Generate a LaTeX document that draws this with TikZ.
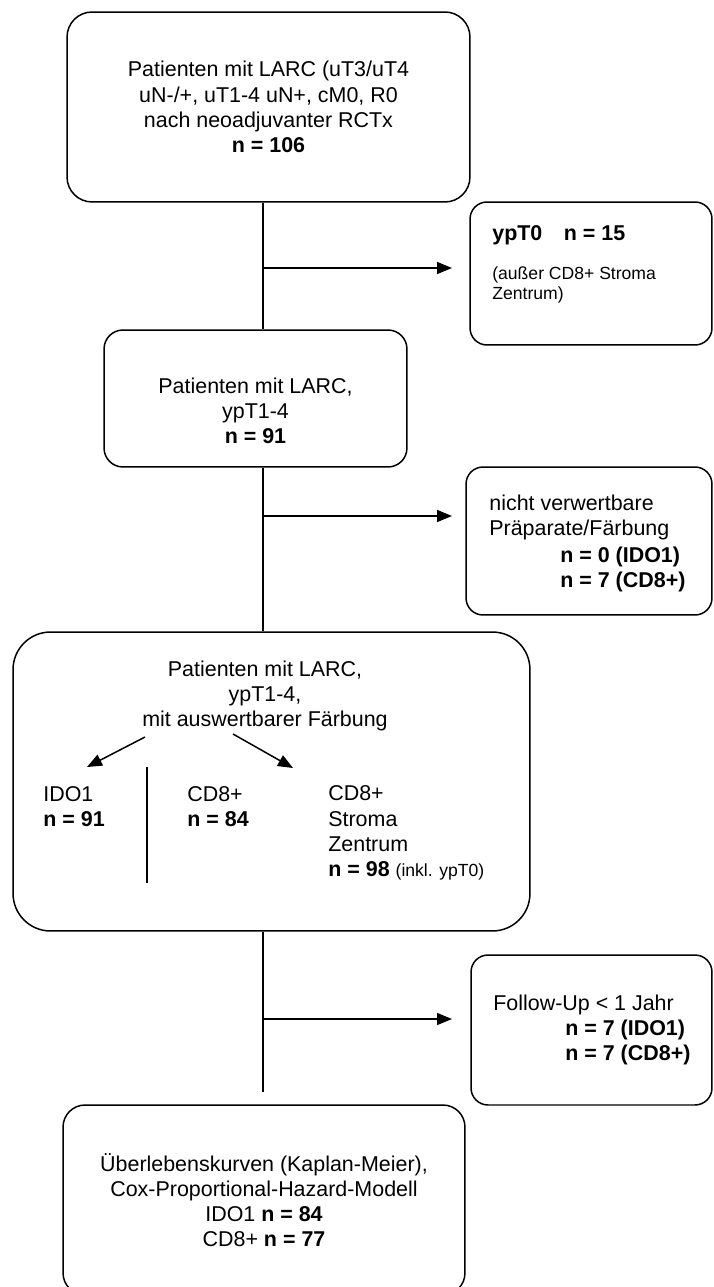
\documentclass[tikz,border=0pt]{standalone}
\usepackage{fontspec}
\setmainfont{Liberation Sans}
\usetikzlibrary{arrows.meta}
\tikzset{
	box/.style={draw, line width=0.85pt, rounded corners=#1, inner sep=0pt, align=center},
	box/.default=0.5cm,
	txt/.style={inner sep=0pt, align=left, anchor=west},
	line/.style={line width=0.85pt},
	arr/.style={line width=0.85pt, -{Triangle[length=0.3cm,width=0.24cm]}},
	smalltxt/.style={font=\fontsize{10}{11.4}\selectfont}
}

\begin{document}
\begin{tikzpicture}[x=0.02cm, y=-0.02cm, font=\fontsize{12.2}{14.3}\selectfont]
			%%%%% START %%%%%
			
			\useasboundingbox (0, 0) rectangle (713, 1287);
			
			\coordinate (spine) at (263, 0);
			
			\node[box, minimum width=8.06cm, minimum height=3.8cm] (larc) at (268.5, 107) {Patienten mit LARC (uT3/uT4\\uN-/+, uT1-4 uN+, cM0, R0\\nach neoadjuvanter RCTx\\\textbf{n = 106}};
			
			\node[box=0.34cm, minimum width=4.84cm, minimum height=2.86cm] (ypt) at (591, 273.5) {};
			\node[txt] (yptn) at (492, 235) {\textbf{ypT0\quad n = 15}};
			\node[txt, smalltxt] (yptx) at (492, 285) {(außer CD8+ Stroma\\Zentrum)};
			
			\node[box=0.38cm, minimum width=6.06cm, minimum height=2.74cm] (pat) at (255.5, 398.5) {};
			\node[txt, align=center, anchor=center] (patt) at (255.5, 411) {Patienten mit LARC,\\ypT1-4\\\textbf{n = 91}};
			
			\node[box=0.34cm, minimum width=4.92cm, minimum height=2.96cm] (verw) at (589, 541) {};
			\node[txt] (verwt) at (489, 517.5) {nicht verwertbare\\Präparate/Färbung};
			\node[txt] (verwn) at (560, 569.5) {\textbf{n = 0 (IDO1)}\\\textbf{n = 7 (CD8+)}};
			
			\node[box=0.75cm, minimum width=10.34cm, minimum height=5.98cm] (ausw) at (271.5, 781.5) {};
			\node[txt, align=center, anchor=center] (auswt) at (265, 696) {Patienten mit LARC,\\ypT1-4,\\mit auswertbarer Färbung};
			\node[txt] (ido) at (43, 806.5) {IDO1\\\textbf{n = 91}};
			\node[txt] (cd) at (187, 806.5) {CD8+\\\textbf{n = 84}};
			\node[txt] (cds) at (328, 833) {CD8+\\Stroma\\Zentrum\\\textbf{n = 98} {\fontsize{10}{11}\selectfont (inkl. ypT0)}};
			
			\coordinate (l0) at (145, 737);
			\coordinate (l1) at (87, 767);
			\coordinate (r0) at (233, 734);
			\coordinate (r1) at (293, 768);
			\draw[arr] (l0) -- (l1);
			\draw[arr] (r0) -- (r1);
			\draw[line] (147, 767) -- (147, 883);
			
			\node[box=0.34cm, minimum width=4.82cm, minimum height=3cm] (follow) at (591.5, 1030) {};
			\node[txt] (followt) at (493, 1005) {Follow-Up < 1 Jahr};
			\node[txt] (follown) at (565, 1042.5) {\textbf{n = 7 (IDO1)}\\\textbf{n = 7 (CD8+)}};
			
			\node[box=0.44cm, minimum width=8.04cm, minimum height=3.8cm] (kaplan) at (264, 1200) {Überlebenskurven (Kaplan-Meier),\\Cox-Proportional-Hazard-Modell\\IDO1 \textbf{n = 84}\\CD8+ \textbf{n = 77}};
			
			% spine and side arrows
			\draw[line] (larc.south -| spine) -- (pat.north -| spine);
			\draw[line] (pat.south -| spine) -- (ausw.north -| spine);
			\draw[line, shorten >=0.24cm] (ausw.south -| spine) -- (kaplan.north -| spine);
			
			\coordinate (a1) at (452, 268);
			\coordinate (a2) at (452, 516);
			\coordinate (a3) at (452, 1019);
			\draw[arr] (spine |- a1) -- (a1);
			\draw[arr] (spine |- a2) -- (a2);
			\draw[arr] (spine |- a3) -- (a3);
			
			%%%%% END %%%%%
		\end{tikzpicture}
\end{document}
